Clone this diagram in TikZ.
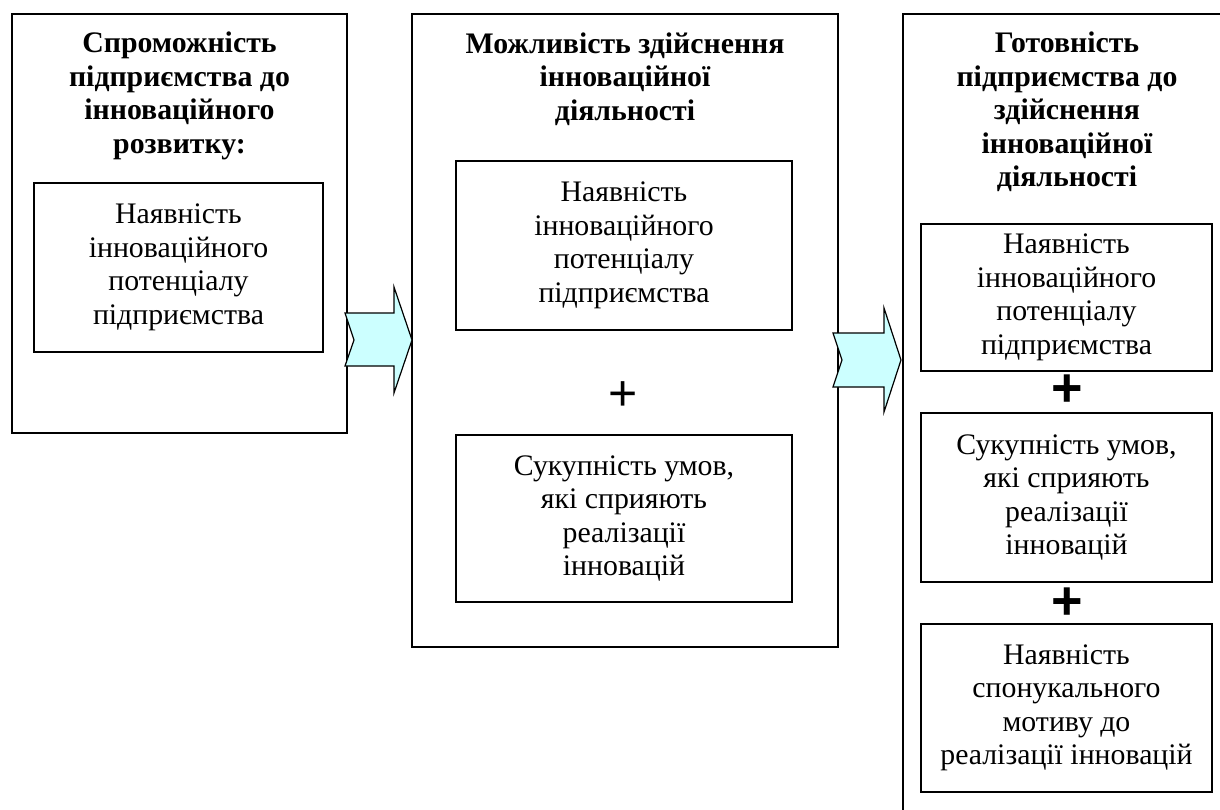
\documentclass[tikz,border=0pt]{standalone}
\usepackage{fontspec}
\setmainfont{Liberation Serif}
\newfontfamily\plusfont{Liberation Sans}
\definecolor{arrowcyan}{HTML}{CCFFFF}
\begin{document}
\begin{tikzpicture}[x=1pt,y=-1pt,
  outer/.style={draw, line width=2.4pt, inner sep=0pt},
  innerbox/.style={draw, line width=2pt, align=center, inner sep=0pt,
    font=\fontsize{29.8}{33.5}\selectfont},
  head/.style={align=center, inner sep=0pt, font=\fontsize{29.8}{33.5}\selectfont\bfseries},
  thinplus/.style={inner sep=0pt, font=\plusfont\fontsize{50}{50}\selectfont},
  boldplus/.style={inner sep=0pt, font=\plusfont\bfseries\fontsize{54}{54}\selectfont},
  blockarrow/.style={draw, fill=arrowcyan, line width=1.2pt, line join=miter}]
\useasboundingbox (0,0) rectangle (1220,810);

% column 1
\node[outer, minimum width=335pt, minimum height=419pt] (b1) at (179.5,223.5) {};
\node[head] (h1) at (179.5,96) {Спроможність\\підприємства до\\інноваційного\\розвитку:};
\node[innerbox, minimum width=289pt, minimum height=169pt] (i1) at (178.5,267.5)
  {Наявність\\інноваційного\\потенціалу\\підприємства};

% column 2
\node[outer, minimum width=426pt, minimum height=633pt] (b2) at (625,330.5) {};
\node[head] (h2) at (625,79) {Можливість здійснення\\інноваційної\\діяльності};
\node[innerbox, minimum width=336pt, minimum height=169pt] (i2a) at (624,245.5)
  {Наявність\\інноваційного\\потенціалу\\підприємства};
\node[thinplus] (p2) at (623,396) {+};
\node[innerbox, minimum width=336pt, minimum height=167pt] (i2b) at (624,518.5)
  {Сукупність умов,\\які сприяють\\реалізації\\інновацій};

% column 3 (box cut by the picture's edge)
\draw[line width=2.4pt] (1225,14) -- (903,14) -- (903,815);
\node[head] (h3) at (1067,112) {Готовність\\підприємства до\\здійснення\\інноваційної\\діяльності};
\node[innerbox, minimum width=291pt, minimum height=147pt] (i3a) at (1066.5,297.5)
  {Наявність\\інноваційного\\потенціалу\\підприємства};
\node[boldplus] (p3a) at (1067,391) {+};
\node[innerbox, minimum width=291pt, minimum height=169pt] (i3b) at (1066.5,497.5)
  {Сукупність умов,\\які сприяють\\реалізації\\інновацій};
\node[boldplus] (p3b) at (1067,604) {+};
\node[innerbox, minimum width=291pt, minimum height=168pt] (i3c) at (1066.5,708)
  {Наявність\\спонукального\\мотиву до\\реалізації інновацій};

% block arrows
\draw[blockarrow] (345,313) -- (394,313) -- (394,287) -- (412,340) -- (394,393)
  -- (394,366) -- (345,366) -- (354,340) -- cycle;
\draw[blockarrow] (833,333) -- (884,333) -- (884,308) -- (901,360) -- (884,412)
  -- (884,387) -- (833,387) -- (842,360) -- cycle;
\end{tikzpicture}
\end{document}
